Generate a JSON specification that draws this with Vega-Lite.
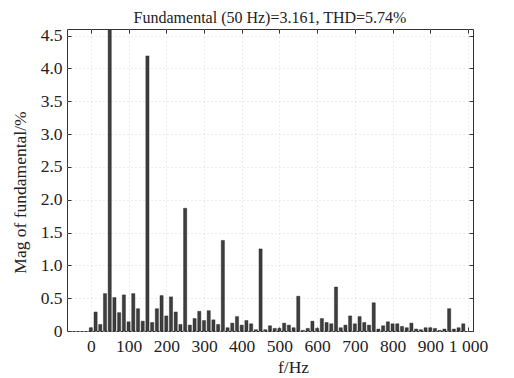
{
  "$schema": "https://vega.github.io/schema/vega-lite/v6.json",
  "width": 406,
  "height": 302,
  "autosize": "none",
  "padding": {"left": 67, "top": 29, "right": 41, "bottom": 47},
  "background": "white",
  "title": {"text": "Fundamental (50 Hz)=3.161, THD=5.74%", "font": "Liberation Serif", "fontSize": 16, "fontWeight": "normal", "color": "#222", "anchor": "middle", "baseline": "alphabetic", "offset": -12},
  "config": {
    "view": {"stroke": "#333", "strokeWidth": 1},
    "axis": {"labelFont": "Liberation Serif", "labelFontSize": 17.5, "labelColor": "#222", "titleFont": "Liberation Serif", "titleFontSize": 17.5, "titleFontWeight": "normal", "titleColor": "#222", "domain": false, "tickColor": "#333", "tickSize": -4, "gridColor": "#d8d8d8", "gridDash": [1, 3], "gridWidth": 1}
  },
  "data": {"values": [
    {"f": 0, "mag": 0.05}, {"f": 12.5, "mag": 0.29}, {"f": 25, "mag": 0.10}, {"f": 37.5, "mag": 0.57},
    {"f": 50, "mag": 100}, {"f": 62.5, "mag": 0.51}, {"f": 75, "mag": 0.28}, {"f": 87.5, "mag": 0.55},
    {"f": 100, "mag": 0.14}, {"f": 112.5, "mag": 0.57}, {"f": 125, "mag": 0.34}, {"f": 137.5, "mag": 0.15},
    {"f": 150, "mag": 4.19}, {"f": 162.5, "mag": 0.13}, {"f": 175, "mag": 0.34}, {"f": 187.5, "mag": 0.54},
    {"f": 200, "mag": 0.23}, {"f": 212.5, "mag": 0.52}, {"f": 225, "mag": 0.29}, {"f": 237.5, "mag": 0.10},
    {"f": 250, "mag": 1.87}, {"f": 262.5, "mag": 0.09}, {"f": 275, "mag": 0.19}, {"f": 287.5, "mag": 0.30},
    {"f": 300, "mag": 0.16}, {"f": 312.5, "mag": 0.31}, {"f": 325, "mag": 0.17}, {"f": 337.5, "mag": 0.10},
    {"f": 350, "mag": 1.38}, {"f": 362.5, "mag": 0.05}, {"f": 375, "mag": 0.12}, {"f": 387.5, "mag": 0.22},
    {"f": 400, "mag": 0.09}, {"f": 412.5, "mag": 0.16}, {"f": 425, "mag": 0.11}, {"f": 437.5, "mag": 0.02},
    {"f": 450, "mag": 1.25}, {"f": 462.5, "mag": 0.02}, {"f": 475, "mag": 0.08}, {"f": 487.5, "mag": 0.04},
    {"f": 500, "mag": 0.04}, {"f": 512.5, "mag": 0.12}, {"f": 525, "mag": 0.09}, {"f": 537.5, "mag": 0.05},
    {"f": 550, "mag": 0.53}, {"f": 562.5, "mag": 0.01}, {"f": 575, "mag": 0.04}, {"f": 587.5, "mag": 0.15},
    {"f": 600, "mag": 0.04}, {"f": 612.5, "mag": 0.19}, {"f": 625, "mag": 0.13}, {"f": 637.5, "mag": 0.11},
    {"f": 650, "mag": 0.67}, {"f": 662.5, "mag": 0.05}, {"f": 675, "mag": 0.09}, {"f": 687.5, "mag": 0.23},
    {"f": 700, "mag": 0.11}, {"f": 712.5, "mag": 0.22}, {"f": 725, "mag": 0.13}, {"f": 737.5, "mag": 0.09},
    {"f": 750, "mag": 0.43}, {"f": 762.5, "mag": 0.03}, {"f": 775, "mag": 0.08}, {"f": 787.5, "mag": 0.14},
    {"f": 800, "mag": 0.11}, {"f": 812.5, "mag": 0.11}, {"f": 825, "mag": 0.07}, {"f": 837.5, "mag": 0.05},
    {"f": 850, "mag": 0.12}, {"f": 862.5, "mag": 0.03}, {"f": 875, "mag": 0.02}, {"f": 887.5, "mag": 0.05},
    {"f": 900, "mag": 0.05}, {"f": 912.5, "mag": 0.04}, {"f": 925, "mag": 0.01}, {"f": 937.5, "mag": 0.03},
    {"f": 950, "mag": 0.34}, {"f": 962.5, "mag": 0.03}, {"f": 975, "mag": 0.05}, {"f": 987.5, "mag": 0.11}
  ]},
  "layer": [
    {
      "mark": {"type": "bar", "width": 3.2, "color": "#3d3d3d", "stroke": "#222", "strokeWidth": 0.4, "clip": true},
      "encoding": {
        "x": {"field": "f", "type": "quantitative", "scale": {"domain": [-50, 1000], "nice": false, "zero": false},
              "axis": {"orient": "bottom", "values": [0, 100, 200, 300, 400, 500, 600, 700, 800, 900, 1000], "labelExpr": "datum.value == 1000 ? '1 000' : datum.label", "labelPadding": 10, "title": "f/Hz", "titleX": 226, "titleY": 41, "titleBaseline": "alphabetic", "titleAlign": "center", "labelFlush": false, "labelOverlap": false}},
        "y": {"field": "mag", "type": "quantitative", "scale": {"domain": [0, 4.6], "nice": false},
              "axis": {"orient": "left", "values": [0, 0.5, 1, 1.5, 2, 2.5, 3, 3.5, 4, 4.5], "labelExpr": "datum.value == 0 ? '0' : format(datum.value, '.1f')", "labelPadding": 9, "title": "Mag of fundamental/%", "titleX": -47, "titleY": 163, "titleAngle": -90, "titleAlign": "center", "titleBaseline": "middle", "labelFlush": false, "labelOverlap": false}}
      }
    },
    {
      "mark": {"type": "bar", "opacity": 0, "clip": true},
      "encoding": {
        "x": {"field": "f", "type": "quantitative", "axis": {"orient": "top", "values": [0, 100, 200, 300, 400, 500, 600, 700, 800, 900, 1000], "labels": false, "grid": false, "title": null}},
        "y": {"field": "mag", "type": "quantitative", "axis": {"orient": "right", "values": [0, 0.5, 1, 1.5, 2, 2.5, 3, 3.5, 4, 4.5], "labels": false, "grid": false, "title": null}}
      }
    }
  ],
  "resolve": {"axis": {"x": "independent", "y": "independent"}}
}
